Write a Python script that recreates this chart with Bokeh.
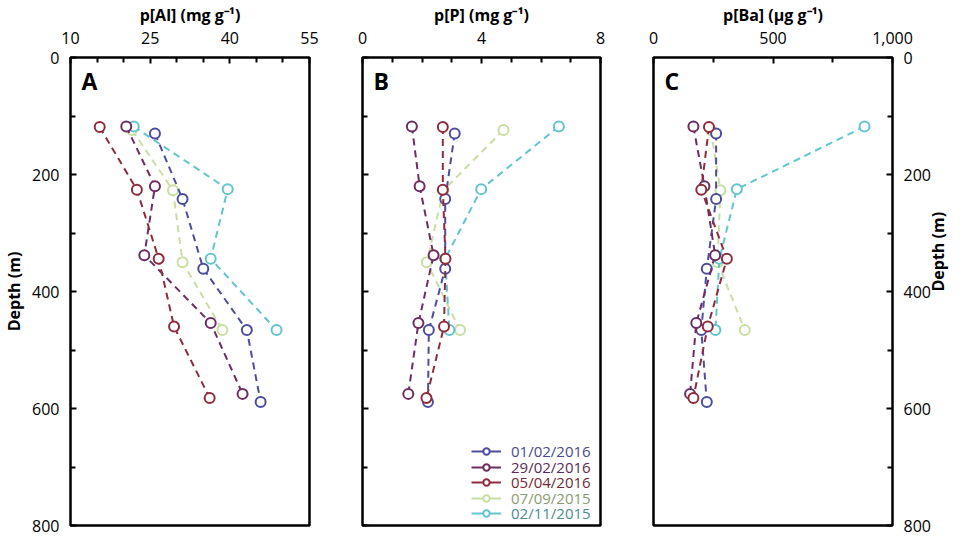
import math
from bokeh.plotting import figure
from bokeh.models import (Range1d, FixedTicker, LinearAxis, Legend, LegendItem,
                          NumeralTickFormatter, Label, ColumnDataSource)
from bokeh.layouts import row
from bokeh.embed import file_html
from bokeh.resources import INLINE

# ---------------- data ----------------
series_names = ["01/02/2016", "29/02/2016", "05/04/2016", "07/09/2015", "02/11/2015"]

depth_0102 = [130, 242, 361, 466, 589]
depth_2902 = [118, 220, 338, 454, 575]
depth_0504 = [119, 226, 344, 460, 582]
depth_0709 = [124, 227, 350, 466]
depth_0211 = [118, 225, 344, 466]

al_0102 = [25.9, 31.1, 35.0, 43.2, 45.8]
al_2902 = [20.5, 25.9, 23.9, 36.4, 42.4]
al_0504 = [15.5, 22.5, 26.6, 29.5, 36.2]
al_0709 = [21.6, 29.3, 31.1, 38.6]
al_0211 = [21.9, 39.6, 36.4, 48.8]

p_0102 = [3.10, 2.78, 2.78, 2.23, 2.20]
p_2902 = [1.66, 1.92, 2.39, 1.88, 1.54]
p_0504 = [2.70, 2.70, 2.79, 2.74, 2.15]
p_0709 = [4.74, 2.72, 2.16, 3.28]
p_0211 = [6.60, 3.99, 2.78, 2.92]

ba_0102 = [262, 262, 223, 200, 223]
ba_2902 = [167, 213, 258, 179, 153]
ba_0504 = [232, 200, 307, 227, 167]
ba_0709 = [240, 280, 268, 382]
ba_0211 = [883, 349, 276, 259]

al_ticks = [10, 25, 40, 55]
al_minor = [15, 20, 30, 35, 45, 50]
p_ticks = [0, 4, 8]
p_minor = [1, 2, 3, 5, 6, 7]
ba_ticks = [0, 500, 1000]
ba_minor = [250, 750]
depth_ticks = [0, 200, 400, 600, 800]
depth_minor = [100, 300, 500, 700]

depths = [depth_0102, depth_2902, depth_0504, depth_0709, depth_0211]
al_vals = [al_0102, al_2902, al_0504, al_0709, al_0211]
p_vals = [p_0102, p_2902, p_0504, p_0709, p_0211]
ba_vals = [ba_0102, ba_2902, ba_0504, ba_0709, ba_0211]

# ---------------- style ----------------
FONT = "Open Sans"
line_colors = ["#4d4d9e", "#6b2d62", "#8e2c3e", "#c9dea2", "#62c4cd"]
text_colors = ["#4a4a8c", "#5c2a55", "#6e2a36", "#8a9a72", "#4a8c92"]
draw_order = [3, 4, 0, 1, 2]

FW, FH = 239, 468


def style_axis(ax):
    ax.axis_line_color = None
    ax.major_tick_in = 6
    ax.major_tick_out = 0
    ax.minor_tick_in = 5
    ax.minor_tick_out = 0
    ax.major_tick_line_width = 2
    ax.minor_tick_line_width = 2
    ax.major_tick_line_color = "black"
    ax.minor_tick_line_color = "black"
    ax.major_label_text_font = FONT
    ax.major_label_text_font_size = "16px"
    ax.major_label_text_color = "black"
    ax.axis_label_text_font = FONT
    ax.axis_label_text_font_size = "16px"
    ax.axis_label_text_font_style = "bold"
    ax.axis_label_text_color = "black"


def make_panel(xr, xt, xm, title, letter, vals, fw, left, right, yside, ylabels, fmt=None):
    p = figure(frame_width=fw, frame_height=FH,
               x_range=Range1d(*xr), y_range=Range1d(800, 0),
               x_axis_location=None, y_axis_location=None,
               output_backend="svg", toolbar_location=None,
               min_border_left=left, min_border_right=right,
               min_border_top=49, min_border_bottom=10)
    p.grid.visible = False
    p.outline_line_color = "black"
    p.outline_line_width = 2.5
    p.background_fill_color = "white"
    p.border_fill_color = "white"

    top = LinearAxis(ticker=FixedTicker(ticks=xt, minor_ticks=xm), axis_label=title)
    style_axis(top)
    top.major_label_standoff = 14
    top.axis_label_standoff = 3
    if fmt is not None:
        top.formatter = fmt
    p.add_layout(top, "above")

    yax = LinearAxis(ticker=FixedTicker(ticks=depth_ticks, minor_ticks=depth_minor))
    style_axis(yax)
    yax.major_label_standoff = 11
    if ylabels:
        yax.axis_label = "Depth (m)"
        yax.axis_label_standoff = 4
        if yside == "right":
            yax.axis_label_orientation = math.pi / 2
    else:
        yax.major_label_overrides = {t: "" for t in depth_ticks}
    p.add_layout(yax, yside)

    srcs = {}
    for i in draw_order:
        src = ColumnDataSource(data=dict(x=vals[i], y=depths[i]))
        srcs[i] = src
        p.line("x", "y", source=src, line_color=line_colors[i], line_width=2,
               line_dash="7 5")
        p.scatter("x", "y", source=src, size=10, marker="circle",
                  line_color=line_colors[i], line_width=2, fill_color="white")

    span = xr[1] - xr[0]
    p.add_layout(Label(x=xr[0] + span * 11 / fw, y=13, text=letter,
                       text_font=FONT, text_font_size="23px", text_font_style="bold",
                       text_color="black", text_baseline="top", text_align="left"))
    return p, srcs


pA, _ = make_panel((10, 55), al_ticks, al_minor, "p[Al] (mg g\u207b\u00b9)", "A", al_vals,
                   FW, 63, 26, "left", True)
pB, srcB = make_panel((0, 8), p_ticks, p_minor, "p[P] (mg g\u207b\u00b9)", "B", p_vals,
                      238, 27, 26, "left", False)
pC, _ = make_panel((0, 1000), ba_ticks, ba_minor, "p[Ba] (\u00b5g g\u207b\u00b9)", "C", ba_vals,
                   FW, 27, 68, "right", True, fmt=NumeralTickFormatter(format="0,0"))

# legend in panel B, one legend per entry so each label keeps its own colour
row_centers = [73, 57, 42, 26, 11]
for i, name in enumerate(series_names):
    ln = pB.line("x", "y", source=srcB[i], line_color=line_colors[i], line_width=2,
                 visible=False)
    sc = pB.scatter("x", "y", source=srcB[i], size=10, marker="circle",
                    line_color=line_colors[i], line_width=2, fill_color="white",
                    visible=False)
    lg = Legend(items=[LegendItem(label=name, renderers=[ln, sc])],
                location=(109, row_centers[i] - 9),
                padding=0, margin=0, spacing=0,
                glyph_width=30, glyph_height=16, label_height=16,
                label_standoff=10, label_text_font=FONT, label_text_font_size="15px",
                label_text_color=text_colors[i], label_text_baseline="middle",
                border_line_color=None, background_fill_alpha=0)
    pB.add_layout(lg)

layout = row(pA, pB, pC, spacing=0)

open("out.html", "w").write(file_html(layout, INLINE))
